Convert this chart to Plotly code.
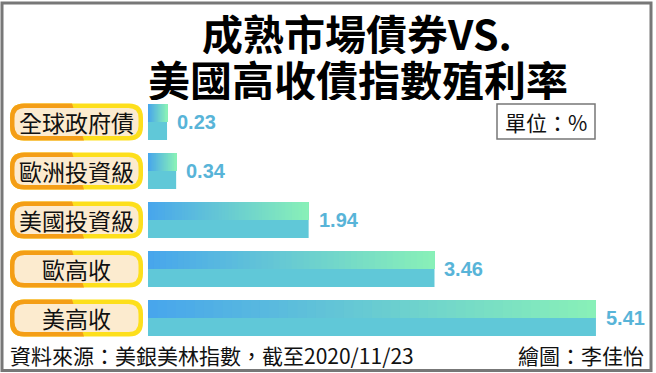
import plotly.graph_objects as go

# ---- data ----
categories = ["全球政府債", "歐洲投資級", "美國投資級", "歐高收", "美高收"]
values = [0.23, 0.34, 1.94, 3.46, 5.41]
value_labels = ["0.23", "0.34", "1.94", "3.46", "5.41"]
title_line1 = "成熟市場債券VS."
title_line2 = "美國高收債指數殖利率"
unit_text = "單位：%"
source_text = "資料來源：美銀美林指數，截至2020/11/23"
credit_text = "繪圖：李佳怡"

W, H = 656, 373
CJK = "Noto Sans CJK TC, Noto Sans CJK SC, sans-serif"

def hex2rgb(h):
    h = h.lstrip("#")
    return [int(h[i:i + 2], 16) for i in (0, 2, 4)]

def lerp(c0, c1, t):
    a, b = hex2rgb(c0), hex2rgb(c1)
    return "rgb(%d,%d,%d)" % tuple(round(a[i] + (b[i] - a[i]) * t) for i in range(3))

def px_y(p):  # window pixel from top -> paper
    return 1 - p / H

def px_x(p):
    return p / W

fig = go.Figure()
rows = list(range(len(categories)))
half = 0.367
N = 48
grad_left, grad_right = "#48a6ec", "#88f0b8"
for k in range(N):
    t = k / (N - 1)
    fig.add_trace(go.Bar(
        orientation="h", y=rows,
        x=[v * (N - k) / N for v in values],
        base=[v * k / N for v in values],
        width=half, offset=-half,
        marker=dict(color=lerp(grad_left, grad_right, t), line=dict(width=0)),
        hoverinfo="skip", showlegend=False))
fig.add_trace(go.Bar(
    orientation="h", y=rows, x=values, width=half, offset=0,
    marker=dict(color="#60c8d8", line=dict(width=0)),
    hoverinfo="skip", showlegend=False))

def rrect(x0, x1, h, r):
    y0, y1 = -h, h
    return (f"M {x0+r},{y1} L {x1-r},{y1} Q {x1},{y1} {x1},{y1-r} "
            f"L {x1},{y0+r} Q {x1},{y0} {x1-r},{y0} L {x0+r},{y0} "
            f"Q {x0},{y0} {x0},{y0+r} L {x0},{y1-r} Q {x0},{y1} {x0+r},{y1} Z")

def left_part(x0, xt, xb, h, r):
    return (f"M {xt},{h} L {x0+r},{h} Q {x0},{h} {x0},{h-r} "
            f"L {x0},{-h+r} Q {x0},{-h} {x0+r},{-h} L {xb},{-h} Z")

shapes = []
annotations = []
for i, cat in enumerate(categories):
    common = dict(type="path", xref="paper", yref="y", xsizemode="pixel",
                  ysizemode="pixel", xanchor=0, yanchor=i, line=dict(width=0))
    shapes.append(dict(common, path=rrect(10, 143, 18.5, 14), fillcolor="#fddf1c"))
    shapes.append(dict(common, path=left_part(10, 72, 84, 18.5, 14), fillcolor="#f49e16"))
    shapes.append(dict(common, path=rrect(14.5, 138.5, 14, 10), fillcolor="#fcebcf"))
    annotations.append(dict(x=px_x(76.5), y=i, xref="paper", yref="y", text=cat,
                            showarrow=False, xanchor="center", yanchor="middle",
                            font=dict(family=CJK, size=23, color="#111111")))
    annotations.append(dict(x=values[i], y=i, xref="x", yref="y", text="<b>%s</b>" % value_labels[i],
                            showarrow=False, xanchor="left", yanchor="middle", xshift=8,
                            font=dict(family="Liberation Sans, Arial", size=20, color="#58b4d8")))

# frame
shapes.append(dict(type="rect", xref="paper", yref="paper", x0=px_x(2), x1=px_x(651),
                   y0=px_y(370.5), y1=px_y(3), line=dict(color="#777777", width=3),
                   fillcolor="rgba(0,0,0,0)"))
# unit box
shapes.append(dict(type="rect", xref="paper", yref="paper", x0=px_x(497), x1=px_x(595),
                   y0=px_y(139), y1=px_y(104), line=dict(color="#777777", width=1.5),
                   fillcolor="rgba(0,0,0,0)"))
annotations.append(dict(x=px_x(546), y=px_y(121.5), xref="paper", yref="paper", text=unit_text,
                        showarrow=False, xanchor="center", yanchor="middle",
                        font=dict(family=CJK, size=21, color="#111111")))
# titles
annotations.append(dict(x=px_x(357), y=px_y(32), xref="paper", yref="paper", text="<b>%s</b>" % title_line1,
                        showarrow=False, xanchor="center", yanchor="middle", height=44,
                        font=dict(family=CJK, size=41, color="#000000")))
annotations.append(dict(x=px_x(358), y=px_y(78), xref="paper", yref="paper", text="<b>%s</b>" % title_line2,
                        showarrow=False, xanchor="center", yanchor="middle", height=44,
                        font=dict(family=CJK, size=42, color="#000000")))
# footer
annotations.append(dict(x=px_x(8), y=px_y(355), xref="paper", yref="paper", text=source_text,
                        showarrow=False, xanchor="left", yanchor="middle",
                        font=dict(family=CJK, size=21, color="#111111")))
annotations.append(dict(x=px_x(646), y=px_y(355), xref="paper", yref="paper", text=credit_text,
                        showarrow=False, xanchor="right", yanchor="middle",
                        font=dict(family=CJK, size=21, color="#111111")))

fig.update_layout(
    width=W, height=H, margin=dict(l=0, r=0, t=0, b=0),
    paper_bgcolor="white", plot_bgcolor="white",
    barmode="overlay", showlegend=False,
    xaxis=dict(domain=[px_x(148), 1.0], range=[0, (656 - 148) / 82.8], visible=False, fixedrange=True),
    yaxis=dict(domain=[px_y(342.5), px_y(97.5)], range=[4.5, -0.5], visible=False, fixedrange=True),
    shapes=shapes, annotations=annotations,
)
fig.write_html("out.html", config={"displayModeBar": False},
               post_script="document.body.style.margin='0';document.body.style.overflow='hidden';")
